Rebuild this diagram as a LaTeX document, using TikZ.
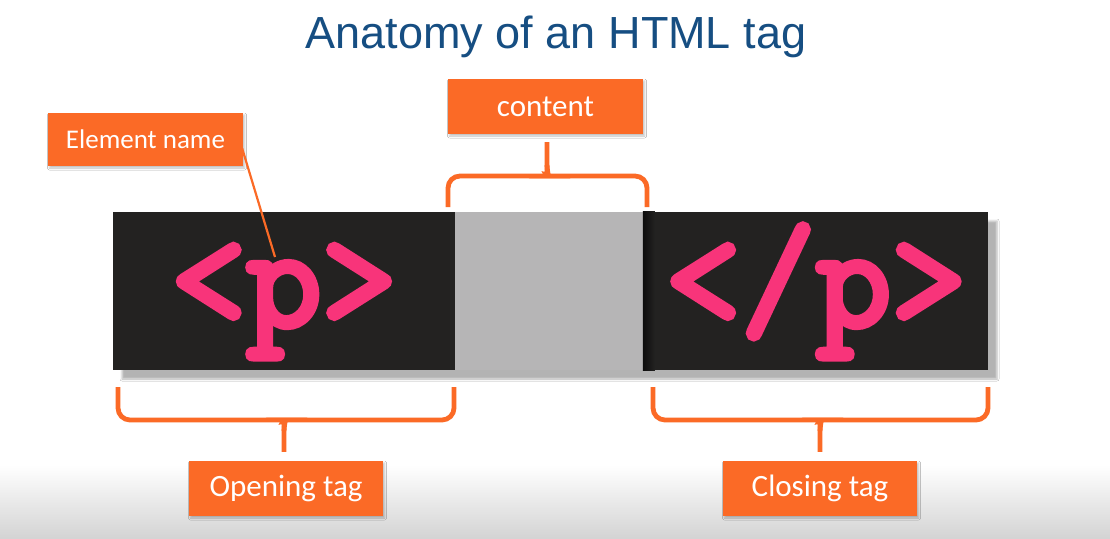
\documentclass[tikz,border=0pt]{standalone}
\usepackage{fontspec}
\setmainfont{Carlito}
\newfontfamily\titlefont{Liberation Sans}
\newfontfamily\codefont[FakeBold=4.5]{Latin Modern Mono}
\usetikzlibrary{shadows.blur,calc}

\definecolor{tagorange}{RGB}{251,106,38}
\definecolor{tagdark}{RGB}{35,34,33}
\definecolor{contentgray}{RGB}{182,181,182}
\definecolor{tagpink}{RGB}{248,52,122}
\definecolor{titleblue}{RGB}{22,78,130}

\tikzset{
  label box/.style={fill=tagorange, text=white, inner sep=0pt,
    minimum width=195pt, minimum height=55pt,
    font=\fontsize{31}{36}\selectfont,
    blur shadow={shadow xshift=1.5pt, shadow yshift=-2pt,
      shadow blur radius=2pt, shadow opacity=25}},
  code box/.style={fill=tagdark, inner sep=0pt, minimum height=158pt},
  code text/.style={text=tagpink, inner sep=0pt, anchor=base,
    font=\codefont\fontsize{146}{146}\selectfont},
  brace/.style={draw=tagorange, line width=4.8pt, rounded corners=12pt},
  pointer/.style={draw=tagorange, line width=2.2pt}
}

\begin{document}
\begin{tikzpicture}[x=1pt, y=-1pt]
  % canvas
  \fill[white] (0,0) rectangle (1110,538);
  \useasboundingbox (0,0) rectangle (1110,538);
  \shade[top color=white, bottom color=black!17] (0,465) rectangle (1110,538);

  % title
  \node[text=titleblue, font=\titlefont\fontsize{45}{54}\selectfont,
        inner sep=0pt, anchor=base] (title) at (556,48) {Anatomy of an HTML tag};

  % strip holding the tag, with its drop shadow
  \fill[white, blur shadow={shadow xshift=9pt, shadow yshift=-9pt,
      shadow blur radius=2pt, shadow opacity=30}] (113,212) rectangle (988,370);
  \node[code box, minimum width=342pt] (open) at (284,291) {};
  \node[fill=contentgray, inner sep=0pt, minimum width=188pt,
        minimum height=158pt] (body) at (549,291) {};
  \node[code box, minimum width=345pt] (close) at (815.5,291) {};
  \shade[left color=black!95, right color=tagdark]
    (close.north west) rectangle ($(close.south west)+(12,0)$);

  % tag text
  \node[code text] (opentxt) at (284,326) {<p>};
  \node[code text] (closetxt) at (816,326) {</p>};

  % labels
  \node[label box, minimum width=195pt, minimum height=53pt,
        font=\fontsize{27}{32}\selectfont] (elem) at (145.5,139.5) {Element name};
  \node[label box] (content) at (545.5,106.5) {content};
  \node[label box, minimum width=194pt] (openlbl) at (286,488.5) {Opening tag};
  \node[label box, minimum width=194pt] (closelbl) at (820,488.5) {Closing tag};

  % pointer from the element name to the p
  \coordinate (pin) at (275,257);
  \draw[pointer] ($(elem.east)+(-1,9)$) -- (pin);

  % brace over the content
  \coordinate (ctip) at ($(content.south)+(1.5,8)$);
  \draw[brace] (448,207) -- (448,176) -- (537,176)
    .. controls (544,176) and (547,172) .. (547,165) -- (ctip);
  \draw[brace] (647,207) -- (647,176) -- (557,176)
    .. controls (550,176) and (547,172) .. (547,165);

  % brace under the opening tag
  \coordinate (otip) at ($(openlbl.north)+(-2,-9)$);
  \draw[brace] (118,387) -- (118,420) -- (274,420)
    .. controls (281,420) and (284,424) .. (284,431) -- (otip);
  \draw[brace] (454,387) -- (454,420) -- (294,420)
    .. controls (287,420) and (284,424) .. (284,431);

  % brace under the closing tag
  \coordinate (ctagtip) at ($(closelbl.north)+(0,-9)$);
  \draw[brace] (653,387) -- (653,420) -- (810,420)
    .. controls (817,420) and (820,424) .. (820,431) -- (ctagtip);
  \draw[brace] (988,387) -- (988,420) -- (830,420)
    .. controls (823,420) and (820,424) .. (820,431);
\end{tikzpicture}
\end{document}
